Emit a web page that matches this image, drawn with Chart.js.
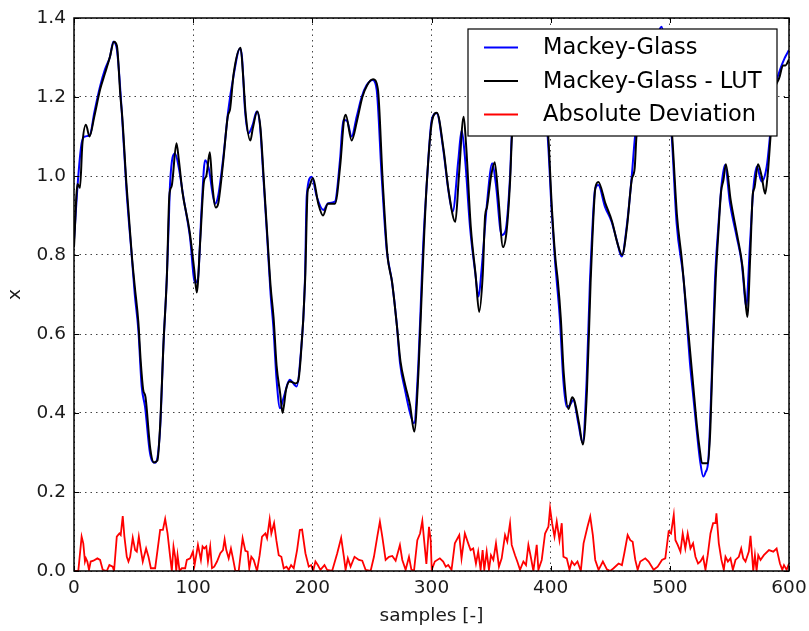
<!DOCTYPE html>
<html>
<head>
<meta charset="utf-8">
<script src="https://cdn.jsdelivr.net/npm/chart.js@4/dist/chart.umd.min.js"></script>
<style>
  body { margin: 0; background: #fff; }
  canvas { display: block; }
</style>
</head>
<body>
<canvas id="mg" width="809" height="631"></canvas>
<script>
// Mackey-Glass (blue)
const mgSamples = [0, 3.6, 6.4, 9.2, 13.4, 17, 21.8, 26, 30.2, 33, 36, 40, 44.2, 48.4, 51, 54, 56.8, 59.6, 63.8, 68, 72.2, 75, 77.8, 79.5, 80.6, 84.8, 88, 91.7, 97.3, 101.5, 104, 107, 110, 113, 118.3, 121, 125, 129.5, 133.7, 139.3, 141, 143.5, 146.3, 150, 153.3, 156, 158.9, 162, 165, 167.3, 170, 172.9, 176, 181, 186.9, 189.6, 193.8, 195.3, 199.5, 203.7, 209.2, 213.4, 219, 223.2, 226, 229, 233, 237.2, 241.4, 245.6, 250.6, 254, 258.2, 262.4, 266.6, 270.8, 273.6, 277.8, 282, 285.3, 289, 291.8, 293.1, 296, 300.2, 304.4, 309.9, 314.1, 317.8, 322.5, 325.3, 328, 332.3, 336.5, 339.5, 342, 346.3, 351, 354, 358.9, 362, 365.9, 367.3, 372, 377, 382, 386, 390, 394, 397.5, 400.8, 403.6, 405, 407.8, 410.6, 413.4, 416, 419, 423.2, 426.8, 430.2, 433, 434.4, 437.2, 440, 445.6, 451.2, 455.4, 459.6, 463.8, 468, 470.8, 475, 480, 485, 490, 493, 497, 501.6, 505.7, 511.3, 512.7, 516.9, 519.7, 522.5, 525.3, 528.1, 530, 532.3, 535.1, 537.9, 540.7, 543.5, 546.3, 550.5, 556.1, 560.3, 561.7, 564, 567.3, 570, 573, 577, 581.3, 584, 586.8, 592.4, 596.6, 600];
const mgValues = [0.838, 1.0, 1.083, 1.10, 1.104, 1.16, 1.226, 1.27, 1.302, 1.34, 1.32, 1.167, 0.957, 0.80, 0.70, 0.61, 0.467, 0.416, 0.298, 0.274, 0.357, 0.568, 0.737, 0.88, 0.98, 1.057, 1.02, 0.948, 0.846, 0.73, 0.74, 0.914, 1.04, 1.02, 0.93, 0.95, 1.04, 1.167, 1.25, 1.323, 1.30, 1.167, 1.108, 1.13, 1.163, 1.13, 0.998, 0.85, 0.70, 0.618, 0.484, 0.412, 0.44, 0.484, 0.467, 0.526, 0.737, 0.95, 0.998, 0.948, 0.914, 0.931, 0.935, 1.04, 1.142, 1.14, 1.10, 1.15, 1.20, 1.23, 1.243, 1.218, 0.998, 0.813, 0.737, 0.627, 0.526, 0.458, 0.40, 0.374, 0.526, 0.737, 0.83, 0.98, 1.142, 1.159, 1.066, 0.965, 0.91, 1.04, 1.116, 1.05, 0.872, 0.76, 0.695, 0.762, 0.922, 1.032, 0.98, 0.85, 0.86, 0.998, 1.10, 1.20, 1.28, 1.33, 1.34, 1.30, 1.20, 1.10, 0.914, 0.787, 0.737, 0.635, 0.484, 0.416, 0.42, 0.433, 0.374, 0.325, 0.484, 0.737, 0.83, 0.965, 0.977, 0.922, 0.884, 0.838, 0.796, 0.872, 0.998, 1.10, 1.18, 1.25, 1.31, 1.36, 1.378, 1.28, 1.10, 0.88, 0.745, 0.694, 0.526, 0.441, 0.357, 0.281, 0.239, 0.25, 0.281, 0.484, 0.737, 0.872, 0.98, 1.028, 0.93, 0.846, 0.78, 0.737, 0.669, 0.83, 0.965, 1.024, 0.986, 1.024, 1.10, 1.20, 1.268, 1.30, 1.319];

// Mackey-Glass - LUT (black)
const lutSamples = [0, 3, 5, 7, 10, 13, 17, 22, 26, 30, 33.5, 36, 39, 40.5, 44, 48.5, 51, 54, 56, 58, 60, 64, 67, 70, 72.5, 75, 78, 80, 82, 86, 88, 91, 97, 101, 103, 106, 109, 111, 114, 116, 119, 121, 125, 129, 131, 134, 139.8, 142, 144, 148, 150, 153.8, 156.5, 159.5, 162, 165, 167.5, 170, 173, 175, 178, 181, 186, 188, 190, 194, 196, 197, 200.5, 205, 209, 213, 219, 223.5, 226.5, 228, 233, 237.5, 242, 246, 251, 255, 259, 263, 267, 271, 274, 278, 282, 285.5, 289, 292, 294, 296, 300.5, 304.5, 310, 314.5, 320, 323, 327, 329, 333, 337, 340, 343, 345, 346.5, 350, 353, 356, 360, 363, 366, 367.5, 372, 377, 382, 386, 390, 394, 398, 401, 404, 406, 408.5, 411, 415, 418, 420, 424, 427, 430.5, 433.5, 435, 437.5, 440, 446, 451.5, 456, 460, 464, 468, 470.5, 472, 476, 481, 486, 490, 493, 497, 502, 506, 510, 513, 517.5, 520.5, 523, 525, 527, 532, 534, 536, 538.5, 541, 543, 545, 547, 551, 556.5, 561, 563, 565, 567.5, 569.5, 571, 574, 577, 580, 582, 584.5, 587, 592, 595, 597, 600];
const lutValues = [0.82, 0.98, 0.97, 1.08, 1.13, 1.10, 1.15, 1.22, 1.26, 1.30, 1.34, 1.33, 1.20, 1.15, 0.98, 0.80, 0.72, 0.63, 0.53, 0.46, 0.44, 0.31, 0.275, 0.28, 0.38, 0.57, 0.75, 0.95, 0.975, 1.083, 1.04, 0.96, 0.86, 0.76, 0.705, 0.84, 0.985, 1.0, 1.06, 0.98, 0.92, 0.93, 1.03, 1.15, 1.17, 1.26, 1.325, 1.25, 1.16, 1.09, 1.12, 1.163, 1.12, 0.98, 0.86, 0.72, 0.64, 0.52, 0.45, 0.40, 0.46, 0.48, 0.475, 0.48, 0.53, 0.74, 0.96, 0.97, 0.995, 0.93, 0.90, 0.93, 0.93, 1.03, 1.14, 1.155, 1.09, 1.14, 1.20, 1.23, 1.245, 1.22, 0.99, 0.80, 0.73, 0.62, 0.53, 0.47, 0.42, 0.353, 0.50, 0.72, 0.86, 0.98, 1.14, 1.16, 1.07, 0.96, 0.884, 1.0, 1.15, 1.08, 0.87, 0.75, 0.656, 0.75, 0.90, 0.92, 1.0, 1.035, 0.95, 0.82, 0.86, 0.99, 1.10, 1.19, 1.27, 1.32, 1.34, 1.31, 1.22, 1.10, 0.92, 0.79, 0.735, 0.64, 0.50, 0.41, 0.44, 0.43, 0.37, 0.32, 0.46, 0.73, 0.84, 0.97, 0.985, 0.93, 0.885, 0.83, 0.80, 0.87, 0.99, 1.02, 1.10, 1.17, 1.25, 1.30, 1.34, 1.35, 1.27, 1.10, 0.90, 0.79, 0.69, 0.54, 0.44, 0.36, 0.31, 0.273, 0.273, 0.36, 0.55, 0.74, 0.87, 0.96, 0.99, 1.03, 0.94, 0.85, 0.77, 0.70, 0.643, 0.80, 0.95, 0.97, 1.03, 1.0, 0.955, 1.0, 1.10, 1.20, 1.25, 1.28, 1.28, 1.295];

// Absolute Deviation (red)
const devSamples = [0, 3.6, 6.4, 7.8, 9.2, 10, 11.2, 12.6, 14, 16.3, 19.6, 21.9, 24.1, 27.5, 29.7, 32.5, 33.6, 35.9, 38.1, 39.2, 40.9, 42.3, 44.3, 45.7, 47.1, 49.3, 51.3, 52.7, 54.4, 56.1, 57.7, 60.5, 62.5, 64.5, 68.1, 70.1, 72.3, 74.6, 76.5, 78.5, 80.7, 82.1, 83.5, 84.9, 85.8, 86.9, 88.6, 90.5, 93.3, 94.7, 97.5, 99.8, 101.2, 103.1, 104, 105.4, 106.5, 107.9, 109.3, 111, 112.4, 114.3, 115.8, 117.7, 120, 122.8, 125, 126.4, 127.8, 129.8, 131.7, 133.4, 135.4, 138.2, 139.6, 141.5, 143.8, 145.7, 147.1, 148.8, 150.8, 153.6, 155.8, 157.8, 160.6, 162, 164.2, 165.6, 167.9, 169.8, 171.8, 174, 176, 178.3, 180.2, 182.2, 184.4, 187.2, 189.5, 191.4, 194.2, 197, 199, 200.7, 202.6, 204.6, 206.8, 210.2, 212.4, 216.6, 220.9, 224.2, 226.5, 227.9, 229.8, 232.1, 235.4, 239.1, 241.9, 244.7, 248.9, 251.7, 254.5, 256.7, 258.7, 261.5, 264.3, 267.1, 269.9, 273.5, 275.5, 278.3, 281.1, 283.1, 285.3, 288.1, 290.4, 292.3, 293.8, 295.7, 297.9, 299.3, 300.2, 302.8, 307, 309.8, 312, 314, 316.8, 319.6, 323.3, 325.2, 328, 330.8, 332.8, 335, 337.3, 339.2, 341.2, 342.9, 344.3, 346.3, 348.2, 349.9, 351.9, 354.1, 356.6, 358.9, 361.7, 363.6, 365.9, 367.3, 370.1, 372, 374.3, 377.1, 379.3, 381.3, 383.3, 385.5, 388.3, 389.7, 392.5, 395.3, 398.1, 399.5, 401.2, 403.2, 405.1, 407.4, 409.3, 410.7, 413.5, 415.8, 417.7, 420, 422.5, 425.3, 427.6, 430.9, 433.2, 435.4, 437.4, 440.2, 443.8, 447.2, 450, 452.8, 457, 459.8, 461.8, 464.6, 466.8, 468.8, 471, 473, 475.2, 479.4, 482.2, 486.4, 489.8, 493.4, 496.2, 499, 501, 503.3, 504.7, 506.6, 508.9, 510.8, 513, 515, 517.3, 519.5, 521.5, 523.7, 525.7, 527.9, 529.9, 531.8, 534.1, 536.3, 538.3, 539.1, 541.1, 543.3, 545.3, 546.7, 548.7, 550.9, 552.9, 555.1, 557.9, 559.9, 561.6, 563.5, 566.3, 567.7, 569.1, 570, 571.4, 572.8, 574.2, 576.1, 578.9, 583.2, 586.8, 589.6, 592.4, 594.4, 595.8, 598, 600];
const devValues = [0, 0, 0.087, 0.07, 0.024, 0.032, 0.024, 0.003, 0.024, 0.026, 0.032, 0.028, 0.003, 0, 0.015, 0.011, 0, 0.087, 0.095, 0.091, 0.139, 0.087, 0.036, 0.024, 0.036, 0.084, 0.053, 0.049, 0.087, 0.053, 0.024, 0.057, 0.036, 0.007, 0.007, 0.053, 0.104, 0.104, 0.132, 0.095, 0.036, 0, 0.062, 0.036, 0, 0.04, 0, 0.007, 0.007, 0.028, 0.032, 0.049, 0.015, 0.049, 0.066, 0.045, 0.028, 0.062, 0.057, 0.062, 0.024, 0.062, 0.007, 0.011, 0.024, 0.045, 0.053, 0.08, 0.053, 0.032, 0.057, 0.032, 0, 0, 0.036, 0.083, 0.051, 0.049, 0.007, 0.036, 0.028, 0, 0.04, 0.087, 0.095, 0.083, 0.131, 0.095, 0.121, 0.078, 0.04, 0.036, 0.007, 0.011, 0.003, 0.015, 0.007, 0.053, 0.104, 0.105, 0.045, 0.011, 0.015, 0, 0.024, 0.015, 0.003, 0.015, 0.003, 0, 0.045, 0.084, 0.036, 0.003, 0.032, 0.011, 0.036, 0.028, 0.026, 0.003, 0, 0.036, 0.087, 0.125, 0.087, 0.028, 0.036, 0.038, 0.026, 0.066, 0.028, 0.003, 0.036, 0.004, 0, 0.078, 0.095, 0.127, 0.078, 0.018, 0.112, 0.078, 0.003, 0.024, 0.032, 0.024, 0.011, 0.015, 0.003, 0.07, 0.091, 0.032, 0.095, 0.07, 0.053, 0.057, 0.019, 0.049, 0.003, 0.053, 0.003, 0.049, 0.003, 0.04, 0.028, 0.07, 0.011, 0.032, 0.091, 0.074, 0.121, 0.066, 0.04, 0.024, 0.003, 0.024, 0.015, 0.066, 0.036, 0, 0.066, 0.003, 0.028, 0.095, 0.112, 0.159, 0.121, 0.087, 0.125, 0.078, 0.121, 0.036, 0.032, 0.003, 0.024, 0.015, 0.024, 0, 0.07, 0.112, 0.138, 0.091, 0.028, 0.003, 0.024, 0.004, 0, 0.007, 0.019, 0.015, 0.045, 0.091, 0.078, 0.074, 0.028, 0.003, 0.024, 0.032, 0.024, 0.003, 0.011, 0.028, 0.032, 0.1, 0.095, 0.142, 0.078, 0.066, 0.049, 0.095, 0.057, 0.095, 0.057, 0.07, 0.036, 0.019, 0.024, 0.036, 0.003, 0.04, 0.095, 0.121, 0.121, 0.146, 0.07, 0.028, 0.003, 0.036, 0.024, 0.032, 0.003, 0.028, 0.036, 0.057, 0.032, 0.024, 0.049, 0.089, 0.036, 0, 0.04, 0, 0.04, 0.028, 0.04, 0.053, 0.049, 0.057, 0.019, 0.003, 0.015, 0.003, 0.019];

const xTicks = [0, 100, 200, 300, 400, 500, 600];
const yTicks = [0.0, 0.2, 0.4, 0.6, 0.8, 1.0, 1.2, 1.4];

function toPoints(xs, ys) {
  return xs.map((x, i) => ({x: x, y: ys[i]}));
}

const FONT = 'DejaVu Sans';

// matplotlib-like frame, inward ticks and legend box
const mplFrame = {
  id: 'mplFrame',
  afterDraw: (chart) => {
    const {ctx, chartArea: a, scales} = chart;
    ctx.save();
    ctx.strokeStyle = '#000';
    ctx.lineWidth = 1;
    // inward ticks
    ctx.beginPath();
    xTicks.forEach(v => {
      const px = Math.round(scales.x.getPixelForValue(v)) + 0.5;
      ctx.moveTo(px, a.bottom); ctx.lineTo(px, a.bottom - 5);
      ctx.moveTo(px, a.top); ctx.lineTo(px, a.top + 5);
    });
    yTicks.forEach(v => {
      const py = Math.round(scales.y.getPixelForValue(v)) + 0.5;
      ctx.moveTo(a.left, py); ctx.lineTo(a.left + 5, py);
      ctx.moveTo(a.right, py); ctx.lineTo(a.right - 5, py);
    });
    ctx.stroke();
    ctx.lineWidth = 1.5;
    ctx.strokeRect(a.left, a.top, a.right - a.left, a.bottom - a.top);

    // legend
    const lx = a.right - 321, ly = a.top + 11, lw = 309, lh = 107;
    ctx.fillStyle = '#fff';
    ctx.fillRect(lx, ly, lw, lh);
    ctx.lineWidth = 1.2;
    ctx.strokeRect(lx, ly, lw, lh);
    ctx.font = '22.5px "' + FONT + '"';
    ctx.textBaseline = 'middle';
    chart.data.datasets.forEach((ds, i) => {
      const y = ly + 18.5 + i * 33.5;
      ctx.strokeStyle = ds.borderColor;
      ctx.lineWidth = 1.8;
      ctx.beginPath();
      ctx.moveTo(lx + 16, y); ctx.lineTo(lx + 50, y);
      ctx.stroke();
      ctx.fillStyle = '#000';
      ctx.fillText(ds.label, lx + 75, y + 1);
    });
    ctx.restore();
  }
};

new Chart(document.getElementById('mg'), {
  type: 'line',
  data: {
    datasets: [
      {
        label: 'Mackey-Glass',
        data: toPoints(mgSamples, mgValues),
        borderColor: '#0000ff',
        borderWidth: 2,
        pointRadius: 0,
        cubicInterpolationMode: 'monotone',
        order: 3
      },
      {
        label: 'Mackey-Glass - LUT',
        data: toPoints(lutSamples, lutValues),
        borderColor: '#000000',
        borderWidth: 2,
        pointRadius: 0,
        cubicInterpolationMode: 'monotone',
        order: 2
      },
      {
        label: 'Absolute Deviation',
        data: toPoints(devSamples, devValues),
        borderColor: '#ff0000',
        borderWidth: 1.8,
        pointRadius: 0,
        tension: 0,
        order: 1
      }
    ]
  },
  options: {
    responsive: false,
    animation: false,
    layout: { padding: { left: 0, right: 20, top: 18, bottom: 0 } },
    plugins: {
      legend: { display: false },
      tooltip: { enabled: false }
    },
    scales: {
      x: {
        type: 'linear',
        min: 0,
        max: 600,
        afterBuildTicks: (scale) => { scale.ticks = xTicks.map(v => ({value: v})); },
        afterFit: (scale) => {
          scale.height = 60;
          scale.paddingLeft = 0;
          scale.paddingRight = 0;
        },
        ticks: {
          color: '#1a1a1a',
          font: { family: FONT, size: 18.5 },
          padding: 6,
          maxRotation: 0
        },
        grid: { color: '#444', lineWidth: 1, drawTicks: false },
        border: { display: false, dash: [1.5, 4] },
        title: {
          display: true,
          text: 'samples [-]',
          color: '#1a1a1a',
          font: { family: FONT, size: 18.5 },
          padding: { top: 0, bottom: 4 }
        }
      },
      y: {
        min: 0,
        max: 1.4,
        afterBuildTicks: (scale) => { scale.ticks = yTicks.map(v => ({value: v})); },
        afterFit: (scale) => {
          scale.width = 74;
          scale.paddingTop = 0;
          scale.paddingBottom = 0;
        },
        ticks: {
          color: '#1a1a1a',
          font: { family: FONT, size: 18.5 },
          padding: 8,
          callback: (v) => Number(v).toFixed(1)
        },
        grid: { color: '#444', lineWidth: 1, drawTicks: false },
        border: { display: false, dash: [1.5, 4] },
        title: {
          display: true,
          text: 'x',
          color: '#1a1a1a',
          font: { family: FONT, size: 18.5 },
          padding: { top: 4, bottom: 0 }
        }
      }
    }
  },
  plugins: [mplFrame]
});
</script>
</body>
</html>
